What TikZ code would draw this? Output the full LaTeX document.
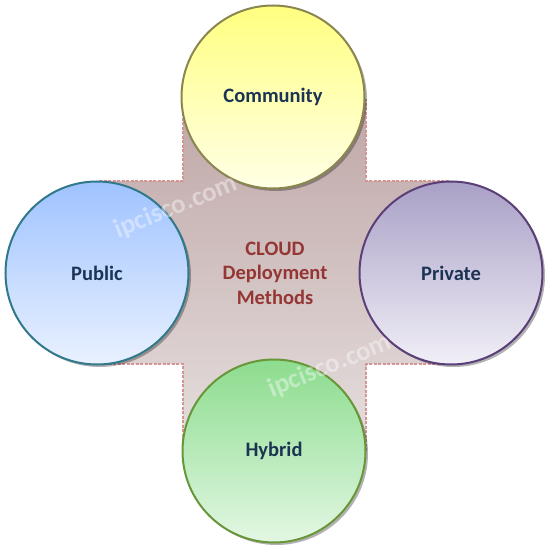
\documentclass[tikz,border=0pt]{standalone}
\usepackage{fontspec}
\setmainfont{Carlito}
\usetikzlibrary{shadows}
\definecolor{crossTop}{HTML}{BFA6A6}
\definecolor{crossBot}{HTML}{E6DFDF}
\definecolor{crossEdge}{HTML}{D69595}
\definecolor{navytext}{HTML}{1C3454}
\definecolor{cloudred}{HTML}{943634}
\definecolor{comTop}{HTML}{FFFF80}
\definecolor{comBot}{HTML}{FFFFE6}
\definecolor{comEdge}{HTML}{8A8650}
\definecolor{pubTop}{HTML}{9FC3FF}
\definecolor{pubBot}{HTML}{E9F1FF}
\definecolor{pubEdge}{HTML}{31798A}
\definecolor{priTop}{HTML}{A9A0C6}
\definecolor{priBot}{HTML}{F1EFF7}
\definecolor{priEdge}{HTML}{5A3F78}
\definecolor{hybTop}{HTML}{8CDC8E}
\definecolor{hybBot}{HTML}{E3F7E3}
\definecolor{hybEdge}{HTML}{6A963A}
\tikzset{
  method/.style={circle, minimum size=183pt, inner sep=0pt, line width=2pt,
    font=\fontsize{20.5}{24}\selectfont\bfseries, text=navytext,
    drop shadow={shadow xshift=2.5pt, shadow yshift=-2.5pt, opacity=0.3, fill=black}},
  watermark/.style={text=white, opacity=0.4, rotate=22, font=\fontsize{27}{27}\selectfont\bfseries}
}
\begin{document}
\begin{tikzpicture}[x=1pt,y=1pt]
\useasboundingbox (0,0) rectangle (552,550);
% cross background
\path[top color=crossTop, bottom color=crossBot, draw=crossEdge, line width=1.5pt,
      dash pattern=on 3pt off 1.5pt]
  (183,100) -- (183,186) -- (100,186) -- (100,369) -- (183,369) -- (183,450)
  -- (366,450) -- (366,369) -- (450,369) -- (450,186) -- (366,186) -- (366,100) -- cycle;
% circles
\node[method, draw=comEdge, top color=comTop, bottom color=comBot] (community) at (273,453) {Community};
\node[method, draw=pubEdge, top color=pubTop, bottom color=pubBot] (public) at (97,277) {Public};
\node[method, draw=priEdge, top color=priTop, bottom color=priBot] (private) at (451,277) {Private};
\node[method, draw=hybEdge, top color=hybTop, bottom color=hybBot] (hybrid) at (274,99) {Hybrid};
% center text
\node[text=cloudred, align=center, font=\fontsize{20.5}{24.5}\selectfont\bfseries] (center) at (275,277)
  {CLOUD\\Deployment\\Methods};
% watermarks
\node[watermark] (wm1) at (176,343) {ipcisco.com};
\node[watermark] (wm2) at (330,184) {ipcisco.com};
\end{tikzpicture}
\end{document}
